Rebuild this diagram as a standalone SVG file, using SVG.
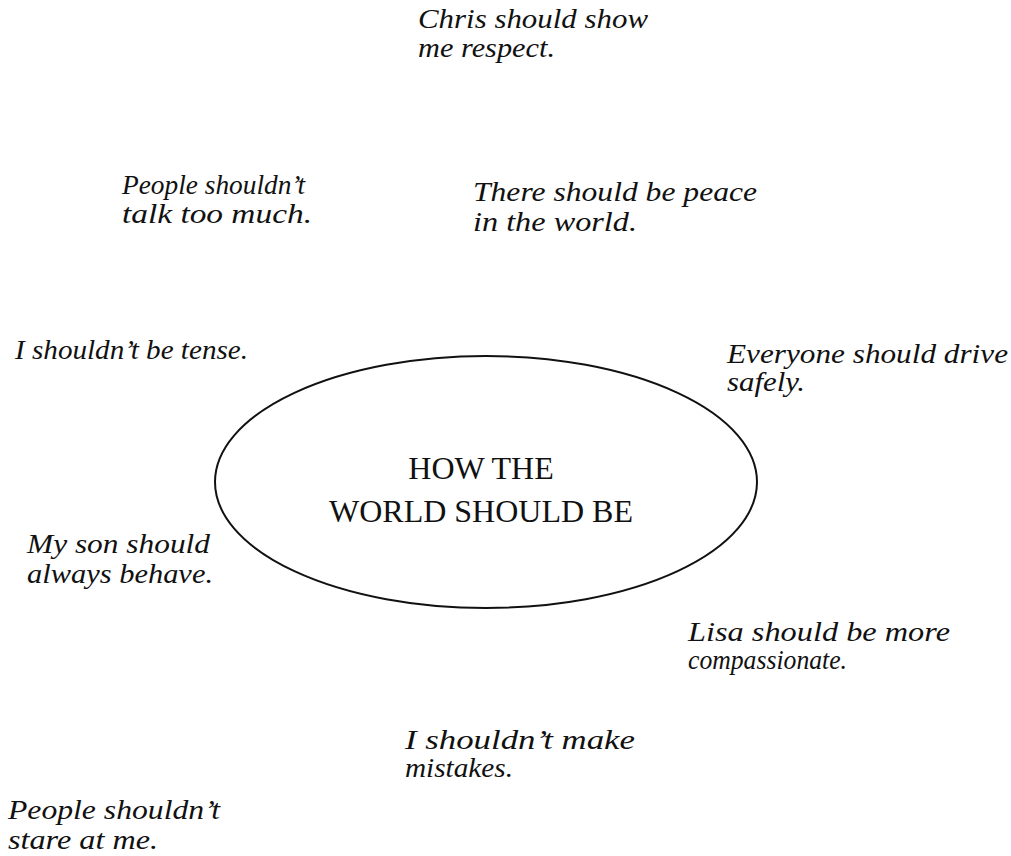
<svg xmlns="http://www.w3.org/2000/svg" width="1011" height="856" viewBox="0 0 1011 856">
<style>
.hand{font-family:"Liberation Serif","DejaVu Serif",serif;font-style:italic;font-size:27px;fill:#111}
.title{font-family:"Liberation Serif","DejaVu Serif",serif;font-size:32px;fill:#111;text-anchor:middle}
.oval{fill:#fff;stroke:#111;stroke-width:2}
</style>
<rect width="1011" height="856" fill="#fff"/>
<g id="connectors"></g>
<g id="center">
<ellipse class="oval" cx="486" cy="482" rx="271" ry="126"/>
<text class="title" x="481" y="479">HOW THE</text>
<text class="title" x="481" y="522">WORLD SHOULD BE</text>
</g>
<g id="n1"><text class="hand" x="418" y="28" textLength="230" lengthAdjust="spacingAndGlyphs">Chris should show</text><text class="hand" x="418" y="57" textLength="137" lengthAdjust="spacingAndGlyphs">me respect.</text></g>
<g id="n2"><text class="hand" x="122" y="194" textLength="183" lengthAdjust="spacingAndGlyphs">People shouldn’t</text><text class="hand" x="122" y="223" textLength="190" lengthAdjust="spacingAndGlyphs">talk too much.</text></g>
<g id="n3"><text class="hand" x="473" y="201" textLength="284" lengthAdjust="spacingAndGlyphs">There should be peace</text><text class="hand" x="473" y="231" textLength="164" lengthAdjust="spacingAndGlyphs">in the world.</text></g>
<g id="n4"><text class="hand" x="15" y="359" textLength="233" lengthAdjust="spacingAndGlyphs">I shouldn’t be tense.</text></g>
<g id="n5"><text class="hand" x="727" y="363" textLength="281" lengthAdjust="spacingAndGlyphs">Everyone should drive</text><text class="hand" x="727" y="391" textLength="78" lengthAdjust="spacingAndGlyphs">safely.</text></g>
<g id="n6"><text class="hand" x="27" y="553" textLength="183" lengthAdjust="spacingAndGlyphs">My son should</text><text class="hand" x="27" y="583" textLength="186" lengthAdjust="spacingAndGlyphs">always behave.</text></g>
<g id="n7"><text class="hand" x="688" y="641" textLength="262" lengthAdjust="spacingAndGlyphs">Lisa should be more</text><text class="hand" x="688" y="669" textLength="159" lengthAdjust="spacingAndGlyphs">compassionate.</text></g>
<g id="n8"><text class="hand" x="405" y="749" textLength="230" lengthAdjust="spacingAndGlyphs">I shouldn’t make</text><text class="hand" x="405" y="777" textLength="108" lengthAdjust="spacingAndGlyphs">mistakes.</text></g>
<g id="n9"><text class="hand" x="8" y="819" textLength="212" lengthAdjust="spacingAndGlyphs">People shouldn’t</text><text class="hand" x="8" y="849" textLength="150" lengthAdjust="spacingAndGlyphs">stare at me.</text></g>
</svg>
